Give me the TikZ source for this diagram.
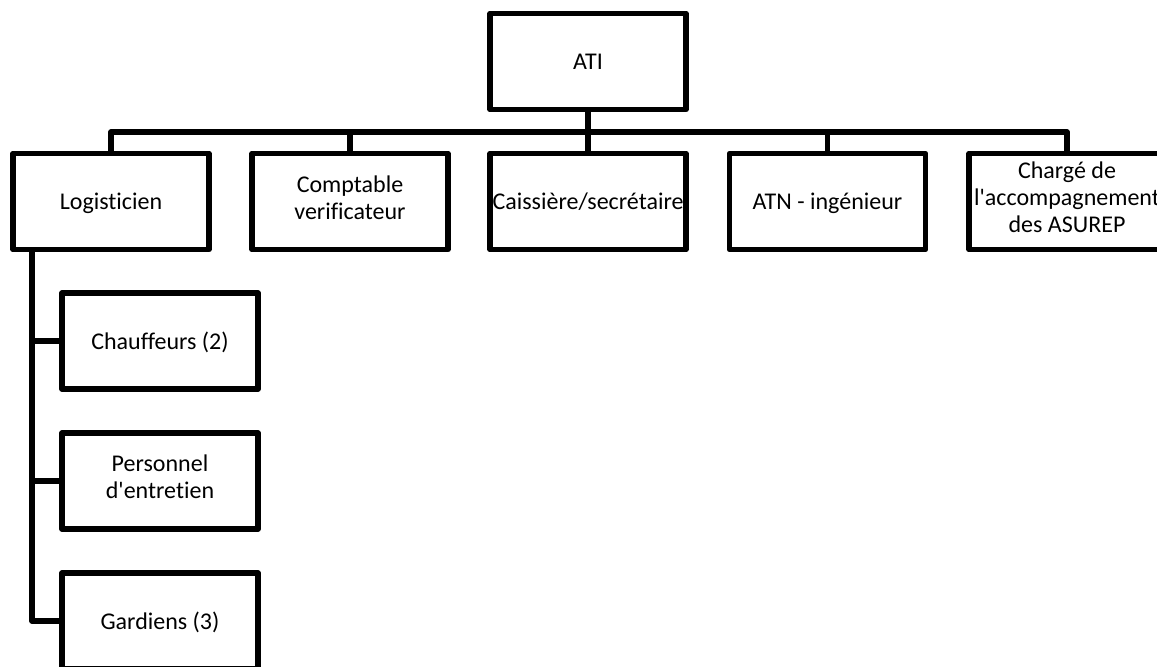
\documentclass[tikz,border=0pt]{standalone}
\usepackage{fontspec}
\setmainfont[Ligatures=NoCommon]{Carlito}
\usepackage{tikz}

\tikzset{
  unit/.style={draw,line width=2.8pt,line join=round,fill=white,
    minimum width=98pt,minimum height=48pt,inner sep=1pt,align=center,
    font=\fontsize{12}{13.5}\selectfont,
    execute at begin node={\rule{0pt}{12.4pt}},execute at end node=\strut},
  link/.style={line width=2.8pt,line join=round}
}

\begin{document}
\begin{tikzpicture}[x=0.5pt,y=-0.5pt]
  \useasboundingbox (0,0) rectangle (1157,666);
  % top level
  \node[unit] (ati) at (588,61.5) {ATI};
  \coordinate (bus) at (0,132);
  % second level
  \node[unit] (logi)   at (111,201.5)  {Logisticien};
  \node[unit] (cpt)    at (350,201.5)  {Comptable\\verificateur};
  \node[unit] (caisse) at (588,201.5)  {Caissière/secrétaire};
  \node[unit] (atn)    at (827.5,201.5) {ATN - ingénieur};
  \node[unit] (chg)    at (1067,201.5) {Chargé de\\l\textquotesingle accompagnement\\des ASUREP};
  % under the logisticien
  \coordinate (spine) at (32,0);
  \node[unit] (chauf) at (160,341) {Chauffeurs (2)};
  \node[unit] (pers)  at (160,481) {Personnel\\d\textquotesingle entretien};
  \node[unit] (gard)  at (160,621) {Gardiens (3)};
  % connectors
  \draw[link] (ati.south) -- (caisse.north);
  \draw[link] (logi.north) |- (chg.north |- bus) -- (chg.north);
  \draw[link] (cpt.north) -- (cpt.north |- bus);
  \draw[link] (atn.north) -- (atn.north |- bus);
  \draw[link] (spine |- logi.south) |- (gard.west);
  \draw[link] (spine |- chauf.west) -- (chauf.west);
  \draw[link] (spine |- pers.west) -- (pers.west);
\end{tikzpicture}
\end{document}
